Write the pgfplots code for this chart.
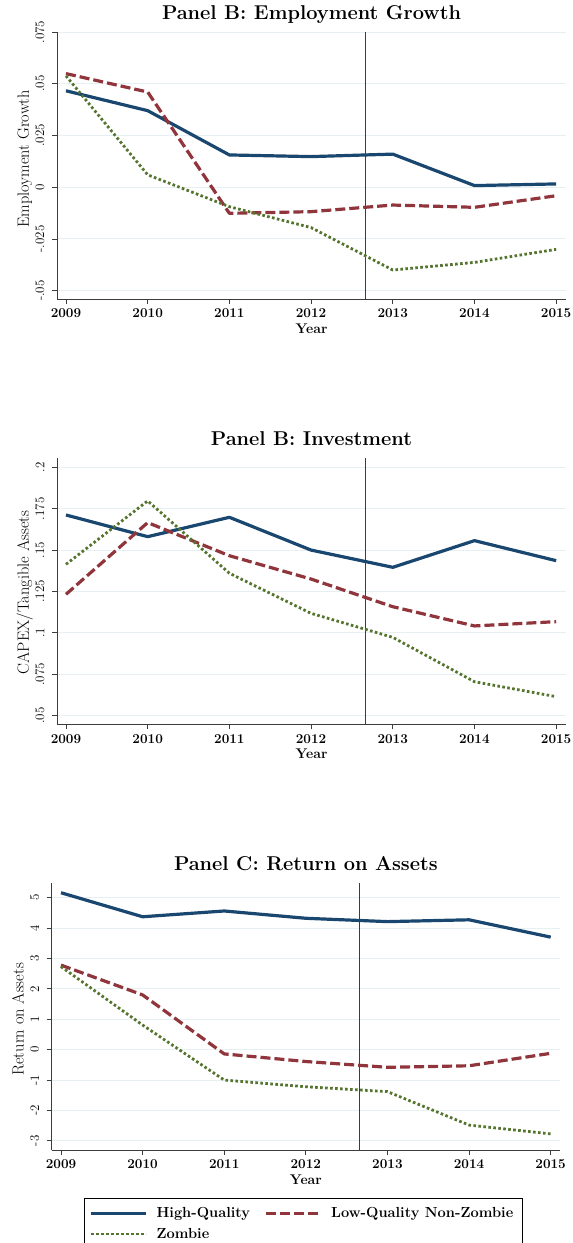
\documentclass[border=0pt]{standalone}
\usepackage{pgfplots}
\pgfplotsset{compat=1.18}

\definecolor{hqblue}{HTML}{1A476F}
\definecolor{lqred}{HTML}{90353B}
\definecolor{zbgreen}{HTML}{55752F}
\definecolor{gridc}{HTML}{E6EFF1}
\definecolor{axc}{HTML}{3C3C3C}

\tikzset{cutoff/.style={draw=axc, line width=1pt}}

\pgfplotsset{
  panel/.style={
    scale only axis,
    axis lines*=left,
    axis line style={draw=axc, line width=0.9pt},
    tick align=outside,
    major tick length=5pt,
    tick style={draw=axc, line width=0.9pt},
    scaled y ticks=false,
    xtick={2009,...,2015},
    xticklabels={2009,2010,2011,2012,2013,2014,2015},
    x tick label style={font=\fontsize{13.5}{16}\selectfont\bfseries},
    xticklabel shift=1.5pt,
    y tick label style={font=\fontsize{13}{15}\selectfont, rotate=90, anchor=south},
    yticklabel shift=4pt,
    ymajorgrids,
    grid style={draw=gridc, line width=1pt},
    xlabel={Year},
    xlabel style={font=\fontsize{14}{16}\selectfont\bfseries,
      at={(axis description cs:0.5,0)}, anchor=base, yshift=-34pt},
    title style={font=\fontsize{20}{24}\selectfont\bfseries,
      at={(axis description cs:0.5,1)}, anchor=base, yshift=7pt},
    ylabel style={font=\fontsize{16.3}{19}\selectfont, anchor=base},
  },
  hq/.style={draw=hqblue, line width=3.2pt, solid, line join=round},
  lq/.style={draw=lqred, line width=3.2pt, dash pattern=on 10pt off 4pt, line join=round},
  zb/.style={draw=zbgreen, line width=2.8pt, dash pattern=on 2.6pt off 2.4pt},
}

\begin{document}
\begin{tikzpicture}
\useasboundingbox (0,0) rectangle (573pt,-1243pt);

% ---------------- Employment growth ----------------
\begin{axis}[panel,
  at={(57pt,-299pt)}, anchor=south west,
  width=509pt, height=267pt,
  xmin=2008.89, xmax=2015.12,
  ymin=-0.054, ymax=0.075,
  ytick={-0.05,-0.025,0,0.025,0.05,0.075},
  yticklabels={-.05,-.025,0,.025,.05,.075},
  title={Panel B: Employment Growth},
  ylabel={Employment Growth},
  ylabel style={at={([xshift=-28pt]axis description cs:0,0.525)}},
]
\draw[cutoff] (axis cs:2012.66,-0.054) -- (axis cs:2012.66,0.075);
\addplot[hq] coordinates {(2009,0.0466) (2010,0.0370) (2011,0.0156) (2012,0.0148) (2013,0.0160) (2014,0.0008) (2015,0.0016)};
\addplot[lq] coordinates {(2009,0.0549) (2010,0.0460) (2011,-0.0126) (2012,-0.0118) (2013,-0.0086) (2014,-0.0097) (2015,-0.0041)};
\addplot[zb] coordinates {(2009,0.0538) (2010,0.0060) (2011,-0.0094) (2012,-0.0195) (2013,-0.0400) (2014,-0.0363) (2015,-0.0300)};
\end{axis}

% ---------------- Investment ----------------
\begin{axis}[panel,
  at={(57pt,-724.3pt)}, anchor=south west,
  width=509pt, height=266.3pt,
  xmin=2008.89, xmax=2015.12,
  ymin=0.0448, ymax=0.2056,
  ytick={0.05,0.075,0.1,0.125,0.15,0.175,0.2},
  yticklabels={.05,.075,.1,.125,.15,.175,.2},
  title={Panel B: Investment},
  ylabel={CAPEX/Tangible Assets},
  ylabel style={at={([xshift=-28pt]axis description cs:0,0.495)}},
]
\draw[cutoff] (axis cs:2012.66,0.0448) -- (axis cs:2012.66,0.2056);
\addplot[hq] coordinates {(2009,0.1712) (2010,0.1581) (2011,0.1698) (2012,0.1500) (2013,0.1396) (2014,0.1557) (2015,0.1436)};
\addplot[lq] coordinates {(2009,0.1233) (2010,0.1666) (2011,0.1466) (2012,0.1325) (2013,0.1158) (2014,0.1042) (2015,0.1068)};
\addplot[zb] coordinates {(2009,0.1414) (2010,0.1797) (2011,0.1360) (2012,0.1118) (2013,0.0973) (2014,0.0705) (2015,0.0615)};
\end{axis}

% ---------------- Return on assets ----------------
\begin{axis}[panel,
  at={(51.7pt,-1150pt)}, anchor=south west,
  width=508.3pt, height=266.7pt,
  xmin=2008.886, xmax=2015.114,
  ymin=-3.3, ymax=5.47,
  ytick={-3,-2,-1,0,1,2,3,4,5},
  yticklabels={-3,-2,-1,0,1,2,3,4,5},
  title={Panel C: Return on Assets},
  ylabel={Return on Assets},
  ylabel style={at={([xshift=-28pt]axis description cs:0,0.49)}},
  legend columns=2,
  legend cell align=left,
  legend style={draw=black, line width=0.8pt,
    at={([xshift=32.3pt,yshift=-48pt]axis description cs:0,0)}, anchor=north west,
    font=\fontsize{14.6}{17}\selectfont\bfseries,
    nodes={inner xsep=4pt, inner ysep=2pt},
    row sep=5pt,
    /tikz/every odd column/.append style={column sep=5pt},
    /tikz/every even column/.append style={column sep=10pt},
    inner xsep=5pt, inner ysep=7pt},
  legend image code/.code={\draw[#1] (0pt,0pt) -- (55pt,0pt);},
]
\draw[cutoff] (axis cs:2012.66,-3.3) -- (axis cs:2012.66,5.47);
\addplot[hq] coordinates {(2009,5.16) (2010,4.37) (2011,4.56) (2012,4.32) (2013,4.21) (2014,4.27) (2015,3.70)};
\addlegendentry{High-Quality}
\addplot[lq] coordinates {(2009,2.78) (2010,1.80) (2011,-0.14) (2012,-0.39) (2013,-0.58) (2014,-0.53) (2015,-0.12)};
\addlegendentry{Low-Quality Non-Zombie}
\addplot[zb] coordinates {(2009,2.73) (2010,0.81) (2011,-1.00) (2012,-1.22) (2013,-1.38) (2014,-2.48) (2015,-2.77)};
\addlegendentry{Zombie}
\end{axis}
\end{tikzpicture}
\end{document}
